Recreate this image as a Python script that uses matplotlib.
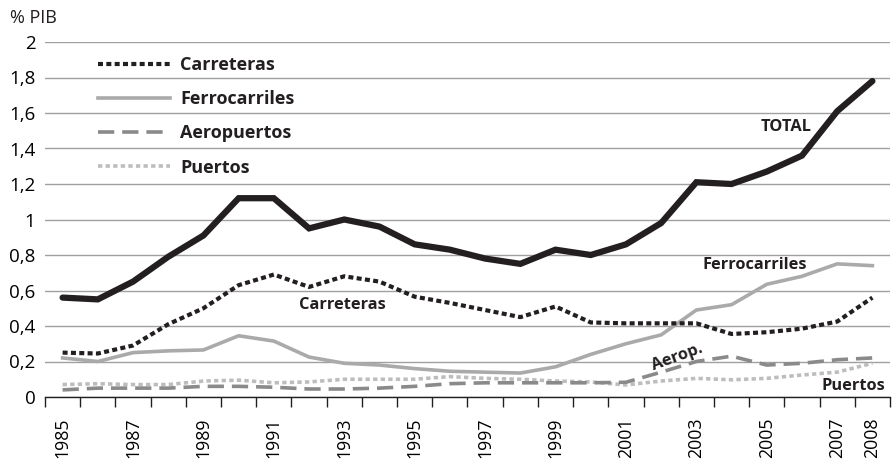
import numpy as np
import matplotlib
matplotlib.use("Agg")
from matplotlib import pyplot as plt
from matplotlib.ticker import FuncFormatter

plt.rcParams['font.family'] = ['Open Sans', 'DejaVu Sans']

# data (% of GDP)
years = list(range(1985, 2009))
total = [0.56, 0.55, 0.65, 0.79, 0.91, 1.12, 1.12, 0.95, 1.00, 0.96, 0.86, 0.83,
         0.78, 0.75, 0.83, 0.80, 0.86, 0.98, 1.21, 1.20, 1.27, 1.36, 1.61, 1.78]
carreteras = [0.25, 0.245, 0.29, 0.41, 0.50, 0.63, 0.69, 0.62, 0.68, 0.65, 0.565, 0.53,
              0.49, 0.45, 0.51, 0.42, 0.415, 0.415, 0.415, 0.355, 0.365, 0.385, 0.425, 0.56]
ferrocarriles = [0.22, 0.20, 0.25, 0.26, 0.265, 0.345, 0.315, 0.225, 0.19, 0.18, 0.16, 0.145,
                 0.14, 0.135, 0.17, 0.24, 0.30, 0.35, 0.49, 0.52, 0.635, 0.68, 0.75, 0.74]
aeropuertos = [0.04, 0.05, 0.05, 0.05, 0.06, 0.06, 0.055, 0.045, 0.045, 0.05, 0.06, 0.075,
               0.08, 0.08, 0.08, 0.08, 0.083, 0.14, 0.20, 0.23, 0.18, 0.19, 0.21, 0.22]
puertos = [0.07, 0.075, 0.07, 0.07, 0.09, 0.095, 0.08, 0.085, 0.10, 0.10, 0.10, 0.115,
           0.105, 0.10, 0.09, 0.085, 0.068, 0.09, 0.105, 0.097, 0.105, 0.124, 0.14, 0.19]
tick_years = [1985, 1987, 1989, 1991, 1993, 1995, 1997, 1999, 2001, 2003, 2005, 2007, 2008]

fig = plt.figure(figsize=(8.92, 4.63), dpi=100)
ax = fig.add_axes([45/892, 1 - 397/463, 845/892, (397 - 42)/463])

x = np.arange(len(years)) + 0.5

ax.plot(x, total, color='#231f20', lw=4.5, solid_capstyle='round', solid_joinstyle='miter', zorder=5)
ax.plot(x, carreteras, color='#231f20', lw=3, linestyle=(0, (1.2, 0.8)), label='Carreteras', zorder=4)
ax.plot(x, ferrocarriles, color='#aaaaaa', lw=2.6, label='Ferrocarriles', zorder=3)
ax.plot(x, aeropuertos, color='#8a8a8a', lw=2.6, linestyle=(0, (4.5, 2.2)), label='Aeropuertos', zorder=3)
ax.plot(x, puertos, color='#bdbdbd', lw=2.6, linestyle=(0, (1.2, 0.9)), label='Puertos', zorder=2)

ax.set_xlim(0, len(years))
ax.set_ylim(0, 2)
ax.set_yticks(np.arange(0, 2.01, 0.2))
ax.yaxis.set_major_formatter(FuncFormatter(lambda v, p: ('%g' % round(v, 1)).replace('.', ',')))
ax.grid(axis='y', color='#a0a0a0', lw=1)
ax.set_axisbelow(True)

# ticks between categories, labels centred on points
ax.set_xticks(np.arange(len(years) + 1))
ax.set_xticklabels([])
ax.set_xticks([years.index(y) + 0.5 for y in tick_years], minor=True)
ax.set_xticklabels([str(y) for y in tick_years], minor=True, rotation=90, fontsize=12.8)
ax.tick_params(axis='x', which='major', length=7, width=1, color='#231f20', direction='out')
ax.tick_params(axis='x', which='minor', length=0, pad=15)
ax.tick_params(axis='y', length=0, labelsize=13.5, pad=7)

for s in ['top', 'right', 'left']:
    ax.spines[s].set_visible(False)
ax.spines['bottom'].set_color('#231f20')
ax.spines['bottom'].set_linewidth(1)

leg = fig.legend(*ax.get_legend_handles_labels(), loc='upper left', bbox_to_anchor=(98/892, 1 - 56/463),
                 frameon=False, handlelength=4.0, borderpad=0, borderaxespad=0,
                 labelspacing=0.9, prop={'weight': 'bold', 'size': 13}, handletextpad=0.55)
for t in leg.get_texts():
    t.set_color('#231f20')

fig.text(10/892, 1 - 18/463, '% PIB', fontsize=13, va='center', ha='left', color='#231f20')

lab = dict(fontsize=11.8, fontweight='bold', color='#231f20', ha='center', va='center')
ax.annotate('TOTAL', (x[21] - 0.45, 1.52), **lab)
ax.annotate('Carreteras', (x[8] - 0.05, 0.52), **lab)
ax.annotate('Ferrocarriles', (x[20] - 0.35, 0.745), **lab)
ax.annotate('Aerop.', (x[17] + 0.45, 0.225), rotation=20, **lab)
ax.annotate('Puertos', (x[22] + 0.45, 0.06), **lab)

fig.savefig('out.png', dpi=100)
